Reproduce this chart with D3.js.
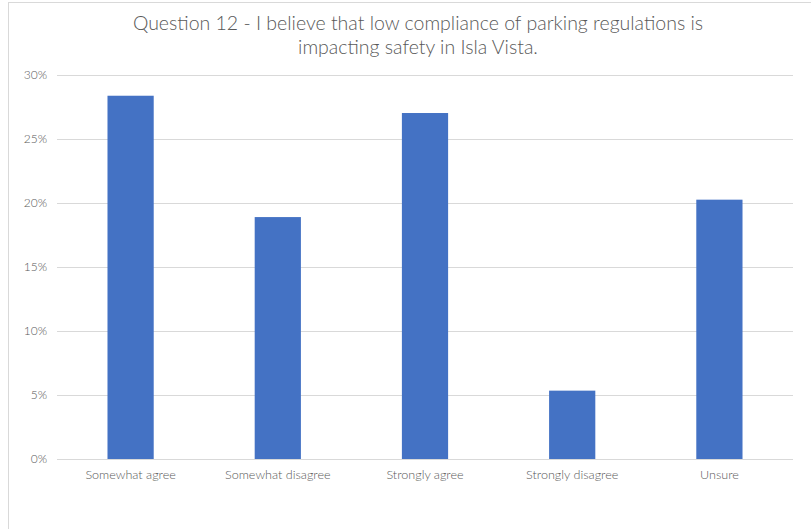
<!DOCTYPE html>
<html>
<head>
<meta charset="utf-8">
<script src="https://cdn.jsdelivr.net/npm/d3@7"></script>
<style>
  html, body { margin: 0; padding: 0; background: #fff; }
  svg { display: block; }
</style>
</head>
<body>
<svg id="chart" width="811" height="529"></svg>
<script>
const titleLines = ["Question 12 - I believe that low compliance of parking regulations is", "impacting safety in Isla Vista."];
const categories = ["Somewhat agree", "Somewhat disagree", "Strongly agree", "Strongly disagree", "Unsure"];
const values = [0.2838, 0.189, 0.2703, 0.0534, 0.2026];
const yTicks = [0, 0.05, 0.10, 0.15, 0.20, 0.25, 0.30];

const svg = d3.select("#chart");
const font = "Lato, 'Open Sans', sans-serif";
const textColor = "#595959";

// outer chart border
svg.append("rect")
  .attr("x", 8.5).attr("y", 2.5)
  .attr("width", 811).attr("height", 540)
  .attr("fill", "none").attr("stroke", "#d9d9d9").attr("stroke-width", 1);

const x = d3.scaleBand().domain(categories).range([57, 793]).paddingInner(0.686).paddingOuter(0.343);
const y = d3.scaleLinear().domain([0, 0.30]).range([459, 75]);

// gridlines
const grid = svg.append("g");
grid.selectAll("line").data(yTicks).join("line")
  .attr("x1", 57).attr("x2", 793)
  .attr("y1", d => Math.round(y(d)) + 0.5).attr("y2", d => Math.round(y(d)) + 0.5)
  .attr("stroke", "#d9d9d9").attr("stroke-width", 1);

// y axis labels
const yAxis = d3.axisLeft(y).tickValues(yTicks).tickFormat(d3.format(".0%")).tickSize(0).tickPadding(0);
const yg = svg.append("g").attr("transform", "translate(47,0)").call(yAxis);
yg.select(".domain").remove();
yg.selectAll("text").attr("font-family", font).attr("font-size", 12).attr("font-weight", 300).attr("fill", textColor);

// bars
svg.append("g").selectAll("rect").data(values).join("rect")
  .attr("x", (d, i) => x(categories[i]))
  .attr("width", x.bandwidth())
  .attr("y", d => y(d))
  .attr("height", d => y(0) - y(d))
  .attr("fill", "#4472c4");

// x axis labels
const xAxis = d3.axisBottom(x).tickSize(0).tickPadding(11);
const xg = svg.append("g").attr("transform", "translate(0,459)").call(xAxis);
xg.select(".domain").remove();
xg.selectAll("text").attr("font-family", font).attr("font-size", 12.6).attr("font-weight", 300).attr("fill", textColor);

// title
svg.append("g").selectAll("text").data(titleLines).join("text")
  .attr("x", 418).attr("y", (d, i) => 30 + i * 24)
  .attr("text-anchor", "middle")
  .attr("font-family", font).attr("font-size", 19.5).attr("font-weight", 300).attr("fill", textColor)
  .text(d => d);
</script>
</body>
</html>
